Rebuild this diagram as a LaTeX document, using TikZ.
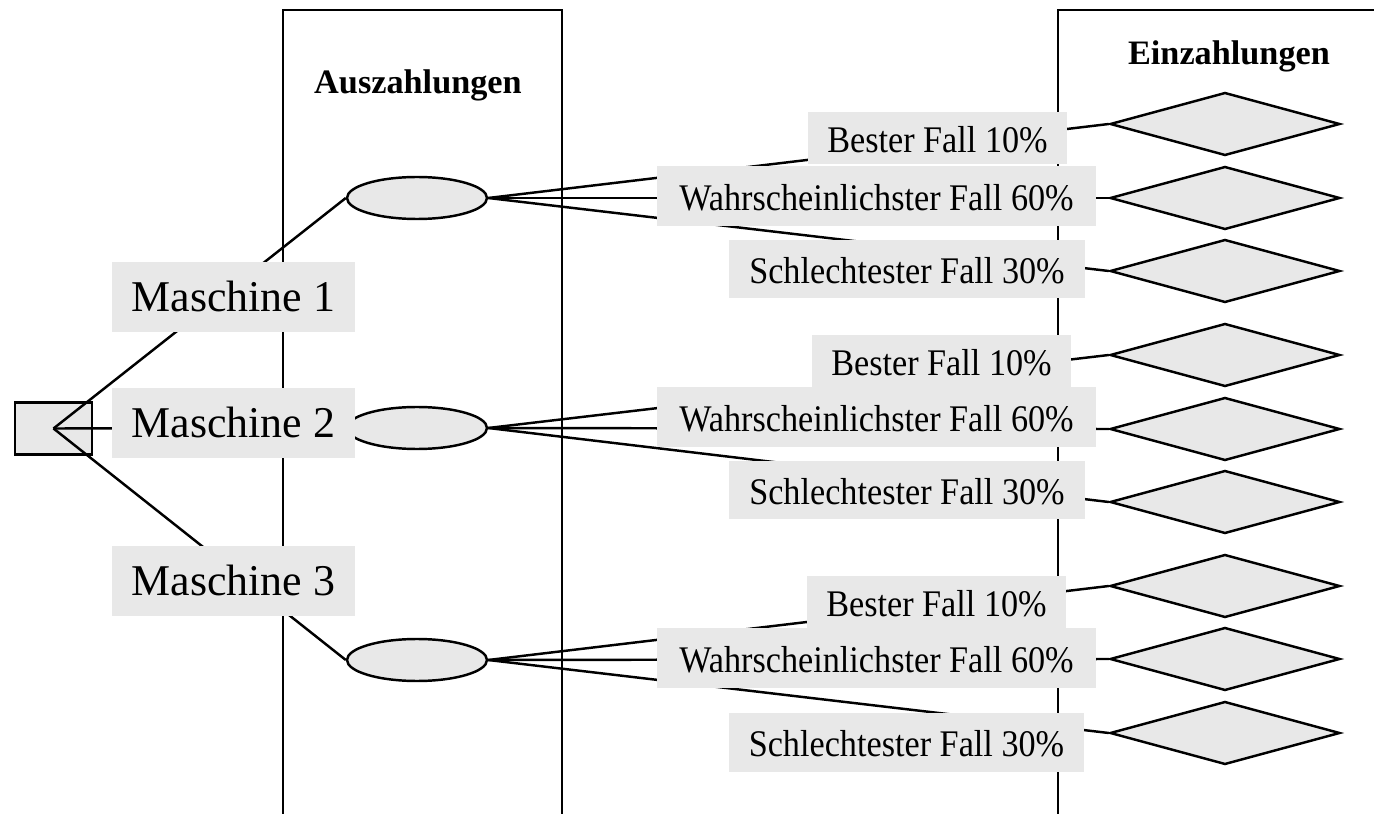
\documentclass[tikz,border=0pt]{standalone}
\usepackage{fontspec}
\setmainfont{Liberation Serif}
\newfontfamily\casefont[FakeStretch=0.91]{Liberation Serif}
\usetikzlibrary{shapes.geometric}
\definecolor{boxgray}{RGB}{232,232,232}

\begin{document}
\begin{tikzpicture}[x=0.02cm,y=-0.02cm,line width=1.4pt,
  decision/.style={rectangle,draw,fill=boxgray,minimum width=1.54cm,minimum height=1.04cm,inner sep=0pt},
  chance/.style={ellipse,draw,fill=boxgray,minimum width=2.8cm,minimum height=0.84cm,inner sep=0pt},
  payoff/.style={diamond,draw,fill=boxgray,minimum width=4.6cm,minimum height=1.26cm,inner sep=0pt},
  machine/.style={fill=boxgray,inner sep=0pt,minimum width=4.86cm,minimum height=1.4cm,
    font=\fontsize{25}{30}\selectfont,text height=16.5pt,text depth=0pt},
  case/.style={fill=boxgray,inner sep=0pt,minimum height=1.18cm,
    font=\casefont\fontsize{21.4}{25}\selectfont,text height=16pt,text depth=0pt},
  best/.style={case,minimum width=5.2cm,minimum height=1.06cm},
  likely/.style={case,minimum width=8.78cm,minimum height=1.2cm},
  worst/.style={case,minimum width=7.12cm},
  head/.style={font=\fontsize{19.5}{23}\selectfont\bfseries,text height=12.9pt,text depth=0pt}]

  \useasboundingbox (0,0) rectangle (1374,814);

  \draw (283,814) -- (283,10) -- (562,10) -- (562,814);
  \draw (1058,814) -- (1058,10) -- (1374,10);

  \node[head] (aus) at (418,82) {Auszahlungen};
  \node[head] (ein) at (1229,53) {Einzahlungen};

  \node[decision] (dec) at (53.5,428.5) {};
  \node[chance] (e1) at (417,198) {};
  \node[chance] (e2) at (417,428) {};
  \node[chance] (e3) at (417,660) {};

  \node[payoff] (d1) at (1225,124) {};
  \node[payoff] (d2) at (1225,198) {};
  \node[payoff] (d3) at (1225,271) {};
  \node[payoff] (d4) at (1225,355) {};
  \node[payoff] (d5) at (1225,429) {};
  \node[payoff] (d6) at (1225,502) {};
  \node[payoff] (d7) at (1225,586) {};
  \node[payoff] (d8) at (1225,659) {};
  \node[payoff] (d9) at (1225,733) {};

  \path
    (dec.center) edge (e1.west)
    (dec.center) edge (e2.west)
    (dec.center) edge (e3.west)
    (e1.east) edge (d1.west)
    (e1.east) edge (d2.west)
    (e1.east) edge (d3.west)
    (e2.east) edge (d4.west)
    (e2.east) edge (d5.west)
    (e2.east) edge (d6.west)
    (e3.east) edge (d7.west)
    (e3.east) edge (d8.west)
    (e3.east) edge (d9.west)
    ;

  \node[machine] (m1) at (233.5,297) {Maschine 1};
  \node[machine] (m2) at (233.5,423) {Maschine 2};
  \node[machine] (m3) at (233.5,581) {Maschine 3};

  \node[best] (b1) at (937.5,138) {Bester Fall 10\%};
  \node[likely] (w1) at (876.5,196) {Wahrscheinlichster Fall 60\%};
  \node[worst] (s1) at (907,269) {Schlechtester Fall 30\%};

  \node[best] (b2) at (941.5,361) {Bester Fall 10\%};
  \node[likely] (w2) at (876.5,417) {Wahrscheinlichster Fall 60\%};
  \node[worst] (s2) at (907,490) {Schlechtester Fall 30\%};

  \node[best] (b3) at (936.5,602) {Bester Fall 10\%};
  \node[likely] (w3) at (876.5,658) {Wahrscheinlichster Fall 60\%};
  \node[worst] (s3) at (906.5,742.5) {Schlechtester Fall 30\%};
\end{tikzpicture}
\end{document}
